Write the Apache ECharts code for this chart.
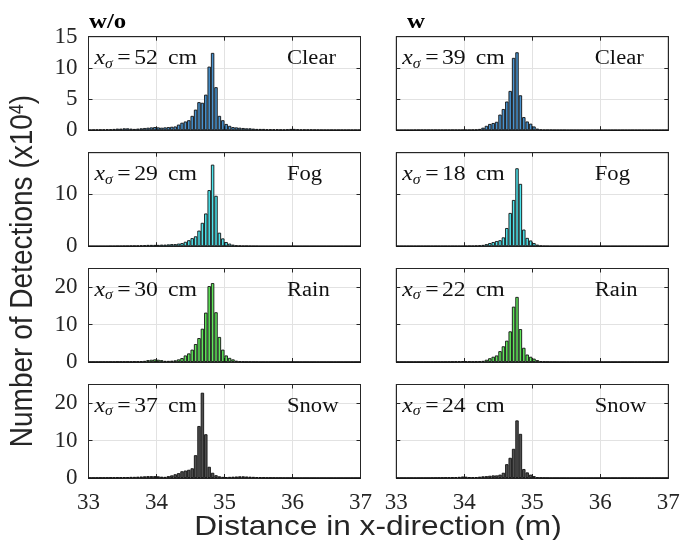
<!DOCTYPE html>
<html><head><meta charset="utf-8">
<script src="https://cdn.jsdelivr.net/npm/echarts@6/dist/echarts.min.js"></script>
<style>html,body{margin:0;padding:0;background:#fff}#c{width:681px;height:540px}</style>
</head><body><div id="c"></div>
<script>
// ---- data ----
const binStart = 33, binWidth = 0.05, binCount = 80;
const binCenters = Array.from({length: binCount}, (_, i) => +(binStart + binWidth * (i + 0.5)).toFixed(3));
const xTicks = [33, 34, 35, 36, 37];
const conditions = ['Clear', 'Fog', 'Rain', 'Snow'];
const columnTitles = ['w/o', 'w'];
const sigmaWo = [52, 29, 30, 37];
const sigmaW = [39, 18, 22, 24];
const yMaxes = [15, 18, 25, 25];
const yIntervals = [5, 10, 10, 10];

const clearWo = [
  0.05,0.08,0.1,0.1,0.12,0.15,0.15,0.2,0.25,0.25,
  0.3,0.3,0.25,0.2,0.25,0.3,0.35,0.4,0.45,0.5,
  0.45,0.4,0.45,0.5,0.55,0.6,0.9,1.2,1.4,1.6,
  2.3,3.3,4.5,4.4,5.7,10.2,12.4,6.9,2.3,1.6,
  1.0,0.7,0.5,0.45,0.4,0.35,0.3,0.3,0.25,0.2,
  0.2,0.2,0.15,0.15,0.15,0.15,0.1,0.1,0.15,0.2,
  0.2,0.15,0.1,0.1,0.1,0.1,0.08,0.08,0.05,0.05,
  0.05,0.05,0.05,0.05,0.05,0.05,0.05,0.05,0.05,0.05];
const fogWo = [
  0,0,0,0,0,0,0.02,0.02,0.03,0.03,
  0.05,0.05,0.08,0.08,0.1,0.15,0.2,0.25,0.25,0.25,
  0.25,0.3,0.3,0.35,0.4,0.4,0.5,0.6,0.85,1.15,
  1.55,1.9,3.0,4.5,6.3,10.8,15.7,9.7,2.6,1.5,
  0.8,0.5,0.3,0.15,0.1,0.05,0.05,0.03,0.02,0.02,
  0,0,0,0,0,0,0,0,0,0,
  0,0,0,0,0,0,0,0,0,0,
  0,0,0,0,0,0,0,0,0,0];
const rainWo = [
  0.02,0.02,0.03,0.03,0.05,0.05,0.05,0.05,0.08,0.08,
  0.1,0.1,0.1,0.15,0.15,0.2,0.3,0.5,0.6,0.7,
  0.6,0.5,0.3,0.3,0.35,0.45,0.7,1.05,1.75,2.3,
  3.3,4.8,6.4,8.9,13.2,20.3,21.1,13.3,6.7,3.3,
  1.75,1.1,0.7,0.35,0.15,0.1,0.05,0.05,0.03,0.03,
  0,0,0,0,0,0,0,0,0,0,
  0,0,0,0,0,0,0,0,0,0,
  0,0,0,0,0,0,0,0,0,0];
const snowWo = [
  0.05,0.05,0.08,0.1,0.1,0.12,0.15,0.15,0.2,0.2,
  0.25,0.25,0.3,0.3,0.35,0.4,0.45,0.5,0.5,0.5,
  0.45,0.35,0.3,0.5,0.7,1.0,1.3,1.8,2.0,2.2,
  2.6,6.1,13.9,22.8,11.7,3.0,1.4,0.75,0.45,0.3,
  0.25,0.3,0.35,0.4,0.45,0.45,0.4,0.35,0.3,0.25,
  0.2,0.15,0.1,0.1,0.08,0.05,0.05,0.03,0.02,0.02,
  0,0,0,0,0,0,0,0,0,0,
  0,0,0,0,0,0,0,0,0,0];
const clearW = [
  0.02,0.02,0.03,0.03,0.03,0.05,0.05,0.05,0.05,0.05,
  0.05,0.05,0.05,0.05,0.05,0.05,0.05,0.05,0.05,0.05,
  0.05,0.05,0.08,0.1,0.2,0.4,0.7,1.0,1.15,1.35,
  2.5,3.4,4.6,6.3,11.6,12.5,5.6,2.1,1.4,1.05,
  0.6,0.25,0.1,0.05,0.05,0.05,0.03,0.03,0.03,0.03,
  0.02,0.02,0.02,0.02,0.02,0.02,0.02,0.02,0.02,0.02,
  0.02,0.02,0.02,0.02,0.02,0.02,0.02,0.02,0.02,0.02,
  0.02,0.02,0.02,0.02,0.02,0.02,0.02,0.02,0.02,0.02];
const fogW = [
  0.02,0.02,0.02,0.02,0.02,0.02,0.02,0.02,0.02,0.02,
  0.02,0.02,0.02,0.02,0.02,0.02,0.02,0.02,0.02,0.02,
  0.03,0.05,0.05,0.1,0.15,0.25,0.4,0.6,0.8,1.0,
  1.15,1.7,3.5,6.4,8.9,15.0,12.0,3.2,1.6,1.1,
  0.6,0.3,0.1,0.03,0.02,0,0,0,0,0,
  0,0,0,0,0,0,0,0,0,0,
  0,0,0,0,0,0,0,0,0,0,
  0,0,0,0,0,0,0,0,0,0];
const rainW = [
  0.02,0.02,0.02,0.02,0.02,0.02,0.02,0.02,0.02,0.02,
  0.03,0.03,0.05,0.05,0.05,0.08,0.1,0.15,0.2,0.25,
  0.2,0.15,0.1,0.15,0.2,0.3,0.6,1.0,1.4,1.75,
  2.9,4.2,5.7,8.2,14.8,17.4,8.8,3.8,2.0,1.4,
  0.9,0.5,0.2,0.1,0.05,0.02,0.02,0,0,0,
  0,0,0,0,0,0,0,0,0,0,
  0,0,0,0,0,0,0,0,0,0,
  0,0,0,0,0,0,0,0,0,0];
const snowW = [
  0.02,0.02,0.02,0.02,0.02,0.02,0.02,0.02,0.02,0.02,
  0.05,0.05,0.08,0.1,0.12,0.15,0.2,0.25,0.3,0.4,
  0.35,0.25,0.2,0.25,0.35,0.45,0.5,0.6,0.7,0.7,
  0.9,1.4,3.7,5.4,7.8,15.4,11.8,2.4,1.5,0.9,
  0.5,0.2,0.1,0.05,0.02,0,0,0,0,0,
  0,0,0,0,0,0,0,0,0,0,
  0,0,0,0,0,0,0,0,0,0,
  0,0,0,0,0,0,0,0,0,0];

const seriesWo = [clearWo, fogWo, rainWo, snowWo];
const seriesW = [clearW, fogW, rainW, snowW];

// ---- styles / layout ----
const fillColors = ['#4a94d0', '#4fe6ee', '#62e85c', '#505050'];
const colLeft = [88.5, 396.3];
const plotW = 272;
const rowTop = [36.7, 152.7, 268.5, 384.5];
const plotH = 93.5;
const axisColor = '#262626';
const gridColor = '#e2e2e2';
const serif = "'Liberation Serif', 'Times New Roman', serif";
const sans = "'Liberation Sans', Arial, sans-serif";
const stretch = 1.13;

const grids = [], xAxes = [], yAxes = [], series = [], graphics = [];
const xAxes2 = [], yAxes2 = [];

let k = 0;
for (let r = 0; r < 4; r++) {
  for (let c = 0; c < 2; c++) {
    grids.push({left: colLeft[c], top: rowTop[r], width: plotW, height: plotH,
      show: true, borderColor: axisColor, borderWidth: 1, backgroundColor: '#fff',
      containLabel: false, outerBoundsMode: 'none'});
    xAxes.push({type: 'value', gridIndex: k, min: xTicks[0], max: xTicks[xTicks.length - 1], interval: 1,
      position: 'bottom',
      axisLine: {show: true, onZero: false, lineStyle: {color: axisColor, width: 1}},
      axisTick: {show: true, inside: true, length: 4, lineStyle: {color: axisColor}},
      axisLabel: {show: r === 3, fontFamily: serif, fontSize: 23, color: axisColor, margin: 13,
        showMinLabel: true, showMaxLabel: true, hideOverlap: false},
      splitLine: {show: true, lineStyle: {color: gridColor, width: 1}}});
    const yi = yIntervals[r];
    yAxes.push({type: 'value', gridIndex: k, min: 0, max: yMaxes[r], interval: yi,
      axisLine: {show: true, lineStyle: {color: axisColor, width: 1}},
      axisTick: {show: true, inside: true, length: 4, lineStyle: {color: axisColor}},
      axisLabel: {show: c === 0, fontFamily: serif, fontSize: 23, color: axisColor, margin: 11,
        formatter: v => (Math.abs(v % yi) < 1e-9 ? String(v) : '')},
      splitLine: {show: true, lineStyle: {color: gridColor, width: 1}}});
    xAxes2.push({type: 'value', gridIndex: k, min: xTicks[0], max: xTicks[xTicks.length - 1], interval: 1,
      position: 'top', axisLine: {show: true, onZero: false, lineStyle: {color: axisColor}},
      axisTick: {show: true, inside: true, length: 4, lineStyle: {color: axisColor}},
      axisLabel: {show: false}, splitLine: {show: false}});
    yAxes2.push({type: 'value', gridIndex: k, min: 0, max: yMaxes[r], interval: yi,
      position: 'right', axisLine: {show: true, lineStyle: {color: axisColor}},
      axisTick: {show: true, inside: true, length: 4, lineStyle: {color: axisColor}},
      axisLabel: {show: false}, splitLine: {show: false}});
    const vals = c === 0 ? seriesWo[r] : seriesW[r];
    series.push({type: 'bar', xAxisIndex: k, yAxisIndex: k, silent: true,
      barCategoryGap: '0%', barGap: '0%', animation: false,
      itemStyle: {color: fillColors[r], borderColor: '#111', borderWidth: 0.9},
      data: binCenters.map((x, i) => [x, vals[i]])});

    const sig = c === 0 ? sigmaWo[r] : sigmaW[r];
    graphics.push({type: 'text', x: colLeft[c] + 6, y: rowTop[r] + 21.7, scaleX: stretch, z: 100,
      style: {text: '{i|x}{s|σ}{e|=}{n|' + sig + '}{u|cm}', align: 'left', verticalAlign: 'middle', fill: '#111',
        rich: {
          i: {fontFamily: serif, fontSize: 21, fontStyle: 'italic'},
          s: {fontFamily: serif, fontSize: 14, fontStyle: 'italic', padding: [11, 1, 0, 0]},
          e: {fontFamily: serif, fontSize: 21, padding: [0, 3, 0, 3]},
          n: {fontFamily: serif, fontSize: 21},
          u: {fontFamily: serif, fontSize: 21, padding: [0, 0, 0, 9]}
        }}});
    graphics.push({type: 'text', x: colLeft[c] + 198.5, y: rowTop[r] + 22, scaleX: stretch, z: 100,
      style: {text: conditions[r], align: 'left', verticalAlign: 'middle', fill: '#111',
        font: '20px ' + serif}});
    k++;
  }
}

graphics.push({type: 'text', x: 89, y: 22.5, scaleX: stretch,
  style: {text: columnTitles[0], font: 'bold 22px ' + serif, fill: '#000', align: 'left', verticalAlign: 'middle'}});
graphics.push({type: 'text', x: 407, y: 22.5, scaleX: stretch,
  style: {text: columnTitles[1], font: 'bold 22px ' + serif, fill: '#000', align: 'left', verticalAlign: 'middle'}});
graphics.push({type: 'text', x: 378, y: 527.5, scaleX: stretch,
  style: {text: 'Distance in x-direction (m)', font: '28px ' + sans, fill: axisColor, align: 'center', verticalAlign: 'middle'}});
graphics.push({type: 'text', x: 23, y: 271, rotation: Math.PI / 2, scaleY: stretch,
  style: {text: '{a|Number of Detections (x10}{s|4}{a|)}', align: 'center', verticalAlign: 'middle', fill: axisColor,
    rich: {a: {fontFamily: sans, fontSize: 28}, s: {fontFamily: sans, fontSize: 18, verticalAlign: 'top'}}}});

const chart = echarts.init(document.getElementById('c'), null, {renderer: 'canvas'});
chart.setOption({
  animation: false,
  backgroundColor: '#fff',
  grid: grids,
  xAxis: xAxes.concat(xAxes2),
  yAxis: yAxes.concat(yAxes2),
  series: series,
  graphic: graphics
});
</script></body></html>
